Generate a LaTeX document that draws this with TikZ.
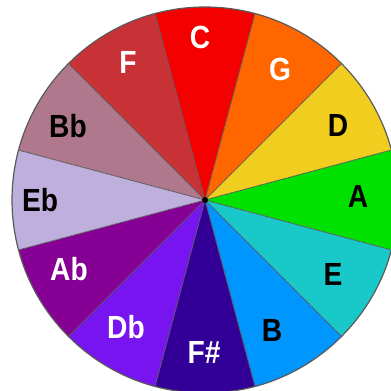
\documentclass[tikz,border=0pt]{standalone}
\usepackage{fontspec}
\setmainfont{Liberation Sans}
\definecolor{cC}{RGB}{245,0,0}
\definecolor{cG}{RGB}{255,102,0}
\definecolor{cD}{RGB}{240,205,30}
\definecolor{cA}{RGB}{0,225,0}
\definecolor{cE}{RGB}{25,200,200}
\definecolor{cB}{RGB}{0,150,255}
\definecolor{cFs}{RGB}{50,0,150}
\definecolor{cDb}{RGB}{120,20,240}
\definecolor{cAb}{RGB}{135,0,150}
\definecolor{cEb}{RGB}{190,175,220}
\definecolor{cBb}{RGB}{175,120,140}
\definecolor{cF}{RGB}{200,50,55}
\definecolor{edge}{RGB}{90,90,90}
\tikzset{
  lbl/.style={inner sep=0pt, xscale=0.88, font=\fontsize{32}{32}\selectfont\bfseries},
  wlbl/.style={lbl, text=white},
  blbl/.style={lbl, text=black},
  rim/.style={draw=edge, line width=1.2pt}
}
\begin{document}
\begin{tikzpicture}[x=1pt,y=1pt]
\useasboundingbox (0,0) rectangle (391,391);
\clip (0,0) rectangle (391,391);
\coordinate (O) at (205,191);
\def\R{193}
\foreach \ang/\col in {90/cC,60/cG,30/cD,0/cA,-30/cE,-60/cB,-90/cFs,-120/cDb,-150/cAb,180/cEb,150/cBb,120/cF}{
  \fill[\col] (O) -- ++(\ang-15:\R) arc[start angle=\ang-15, end angle=\ang+15, radius=\R] -- cycle;
}
\foreach \ang in {15,45,...,345}{
  \draw[edge, line width=0.9pt, dash pattern=on 2pt off 0.6pt] (O) -- ++(\ang:\R);
}
\draw[rim] (O) circle[radius=\R];
\fill[black] (O) circle[radius=3];
\node[wlbl] (nC) at (200,354) {C};
\node[wlbl] (nG) at (280,322) {G};
\node[blbl] (nD) at (338,266) {D};
\node[blbl] (nA) at (358,195) {A};
\node[blbl] (nE) at (333,117) {E};
\node[blbl] (nB) at (272,61) {B};
\node[wlbl] (nFs) at (204,39) {F\#};
\node[wlbl] (nDb) at (126,64) {Db};
\node[wlbl] (nAb) at (69,122) {Ab};
\node[blbl] (nEb) at (40,191) {Eb};
\node[blbl] (nBb) at (68,265) {Bb};
\node[wlbl] (nF) at (128,329) {F};
\end{tikzpicture}
\end{document}
